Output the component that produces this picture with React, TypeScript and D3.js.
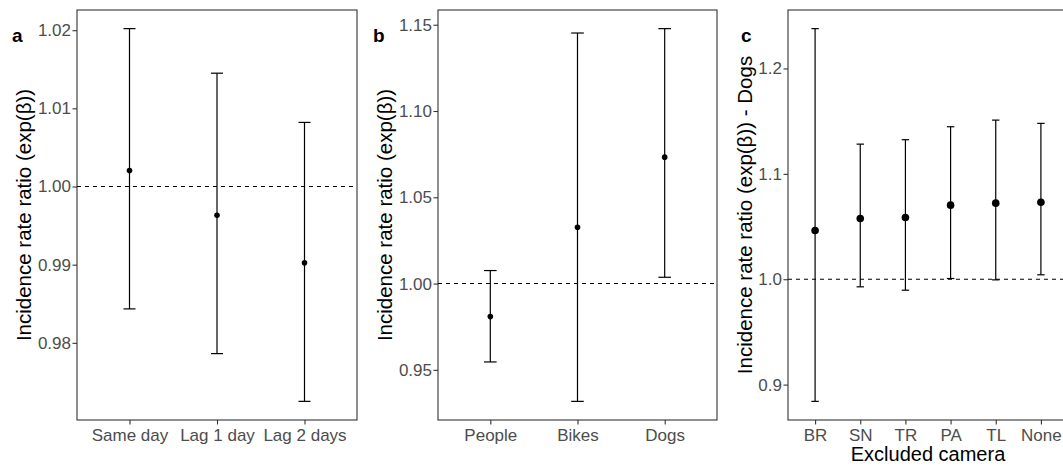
import React, { useEffect, useRef } from "react";
import * as d3 from "d3";

// panel a: lag of the effect
const lagCategories = ["Same day", "Lag 1 day", "Lag 2 days"];
const lagEstimate = [1.00205, 0.99633, 0.99023];
const lagLower = [0.98434, 0.97862, 0.97251];
const lagUpper = [1.0202, 1.0145, 1.0082];
const lagTicks = [0.98, 0.99, 1.0, 1.01, 1.02];

// panel b: type of disturbance
const typeCategories = ["People", "Bikes", "Dogs"];
const typeEstimate = [0.98086, 1.03266, 1.07326];
const typeLower = [0.95457, 0.93173, 1.00365];
const typeUpper = [1.00754, 1.1452, 1.14774];
const typeTicks = [0.95, 1.0, 1.05, 1.1, 1.15];

// panel c: dogs, leaving one camera out
const cameraCategories = ["BR", "SN", "TR", "PA", "TL", "None"];
const cameraEstimate = [1.0462, 1.0576, 1.0586, 1.0703, 1.0722, 1.0731];
const cameraLower = [0.8841, 0.9928, 0.9896, 1.0007, 0.9994, 1.0042];
const cameraUpper = [1.2378, 1.1282, 1.1324, 1.1447, 1.151, 1.1479];
const cameraTicks = [0.9, 1.0, 1.1, 1.2];

const W = 1063;
const H = 466;
const top = 10;
const bottom = 420;
const font = "'Liberation Sans', Arial, sans-serif";

function drawPanel(svg, opt) {
  const g = svg.append("g");
  const lo = d3.min(opt.lower);
  const hi = d3.max(opt.upper);
  const pad = (hi - lo) * 0.05;

  const x = d3
    .scalePoint()
    .domain(opt.categories)
    .range([opt.left, opt.right])
    .padding(0.6);
  const y = d3
    .scaleLinear()
    .domain([lo - pad, hi + pad])
    .range([bottom, top]);

  // panel box (panel c runs off the right edge like the original)
  g.append("rect")
    .attr("x", opt.left)
    .attr("y", top)
    .attr("width", opt.right - opt.left)
    .attr("height", bottom - top)
    .attr("fill", "white")
    .attr("stroke", "#333333")
    .attr("stroke-width", 1.1);

  g.append("line")
    .attr("x1", opt.left)
    .attr("x2", opt.right)
    .attr("y1", y(1))
    .attr("y2", y(1))
    .attr("stroke", "black")
    .attr("stroke-width", 1.1)
    .attr("stroke-dasharray", "4,4");

  const rows = opt.categories.map((c, i) => ({
    c,
    est: opt.estimate[i],
    lo: opt.lower[i],
    hi: opt.upper[i],
  }));

  const bars = g.selectAll(".bar").data(rows).join("g");
  bars
    .append("line")
    .attr("x1", (d) => x(d.c))
    .attr("x2", (d) => x(d.c))
    .attr("y1", (d) => y(d.lo))
    .attr("y2", (d) => y(d.hi))
    .attr("stroke", "black")
    .attr("stroke-width", 1.2);
  ["lo", "hi"].forEach((k) => {
    bars
      .append("line")
      .attr("x1", (d) => x(d.c) - opt.cap)
      .attr("x2", (d) => x(d.c) + opt.cap)
      .attr("y1", (d) => y(d[k]))
      .attr("y2", (d) => y(d[k]))
      .attr("stroke", "black")
      .attr("stroke-width", 1.2);
  });
  bars
    .append("circle")
    .attr("cx", (d) => x(d.c))
    .attr("cy", (d) => y(d.est))
    .attr("r", opt.r)
    .attr("fill", "black");

  const yAxis = g
    .append("g")
    .attr("transform", `translate(${opt.left},0)`)
    .call(
      d3
        .axisLeft(y)
        .tickValues(opt.ticks)
        .tickFormat(d3.format(opt.fmt))
        .tickSize(4.5)
        .tickPadding(1.5)
    );
  const xAxis = g
    .append("g")
    .attr("transform", `translate(0,${bottom})`)
    .call(d3.axisBottom(x).tickSize(4.5).tickPadding(4.5));
  [yAxis, xAxis].forEach((a) => {
    a.select(".domain").remove();
    a.selectAll("line").attr("stroke", "#333333").attr("stroke-width", 1.1);
    a.selectAll("text")
      .attr("fill", "#4d4d4d")
      .style("font-family", font)
      .style("font-size", "17px");
  });

  g.append("text")
    .attr("transform", `translate(${opt.titleX},${(top + bottom) / 2}) rotate(-90)`)
    .attr("text-anchor", "middle")
    .style("font-family", font)
    .style("font-size", "20.5px")
    .text(opt.yTitle);

  if (opt.xTitle) {
    g.append("text")
      .attr("x", (opt.left + opt.right) / 2)
      .attr("y", 461)
      .attr("text-anchor", "middle")
      .style("font-family", font)
      .style("font-size", "20px")
      .text(opt.xTitle);
  }

  g.append("text")
    .attr("x", opt.labelX)
    .attr("y", 42)
    .style("font-family", font)
    .style("font-size", "19px")
    .style("font-weight", "bold")
    .text(opt.label);
}

export default function App() {
  const svgRef = useRef(null);

  useEffect(() => {
    const svg = d3.select(svgRef.current);
    svg.selectAll("*").remove();
    svg.append("rect").attr("width", W).attr("height", H).attr("fill", "white");

    const yTitle = "Incidence rate ratio (exp(\u03b2))";
    drawPanel(svg, {
      categories: lagCategories,
      estimate: lagEstimate,
      lower: lagLower,
      upper: lagUpper,
      ticks: lagTicks,
      fmt: ".2f",
      left: 77,
      right: 357,
      cap: 6,
      r: 2.8,
      titleX: 31,
      labelX: 12,
      label: "a",
      yTitle,
    });
    drawPanel(svg, {
      categories: typeCategories,
      estimate: typeEstimate,
      lower: typeLower,
      upper: typeUpper,
      ticks: typeTicks,
      fmt: ".2f",
      left: 438,
      right: 717,
      cap: 6.3,
      r: 2.8,
      titleX: 391.5,
      labelX: 373,
      label: "b",
      yTitle,
    });
    drawPanel(svg, {
      categories: cameraCategories,
      estimate: cameraEstimate,
      lower: cameraLower,
      upper: cameraUpper,
      ticks: cameraTicks,
      fmt: ".1f",
      left: 788,
      right: 1068,
      cap: 3.7,
      r: 3.8,
      titleX: 752,
      labelX: 741,
      label: "c",
      yTitle: yTitle + " - Dogs",
      xTitle: "Excluded camera",
    });
  }, []);

  return (
    <div>
      <svg
        ref={svgRef}
        width={W}
        height={H}
        style={{ position: "absolute", left: 0, top: 0 }}
      ></svg>
    </div>
  );
}
